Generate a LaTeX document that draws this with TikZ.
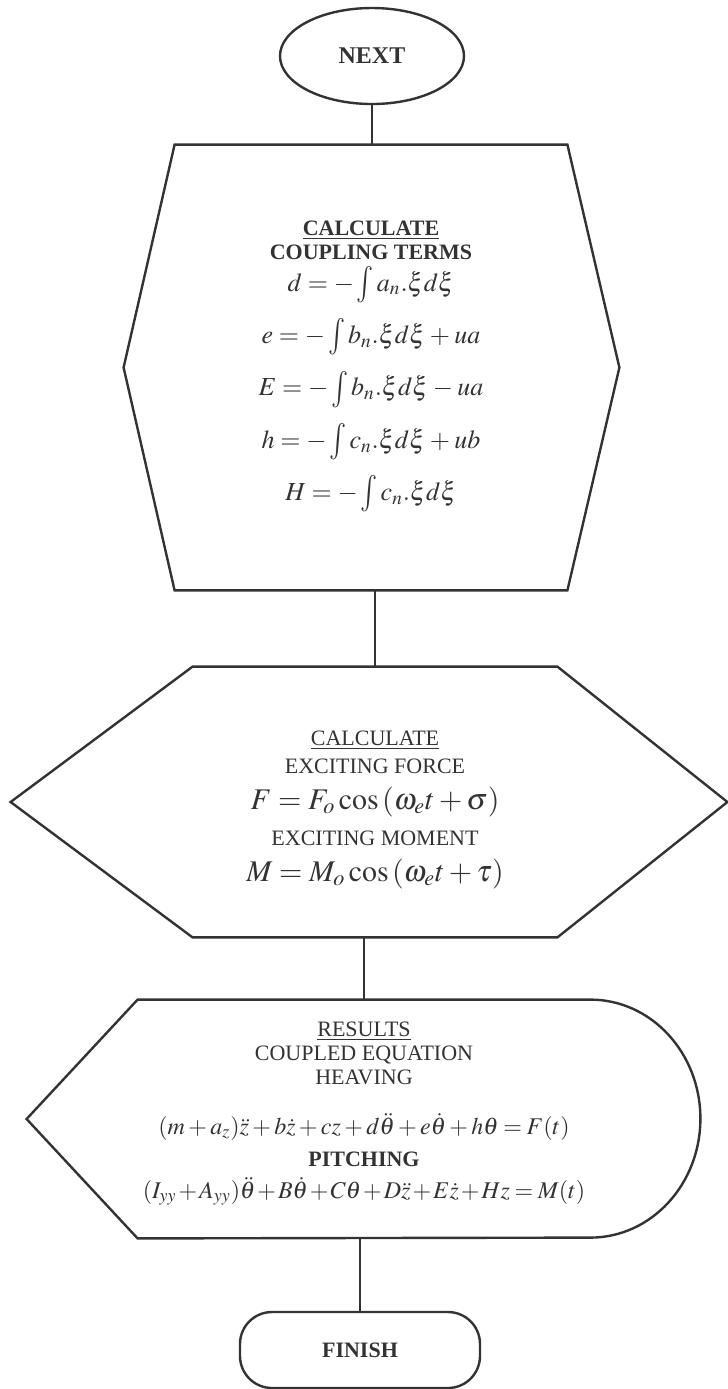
\documentclass[tikz,border=0pt]{standalone}
\usepackage{mathptmx}
\usepackage[no-math]{fontspec}
\setmainfont{Liberation Serif}
\usepackage{graphicx}
\usepackage{tikz}
\usetikzlibrary{shapes.geometric,positioning}
\definecolor{inkgray}{HTML}{333333}
\newcommand{\eqfont}{\fontsize{13}{15}\selectfont\medmuskip=3mu\thickmuskip=4mu}
\newcommand{\eqbigfont}{\fontsize{15}{17}\selectfont}
\newcommand{\reseqfont}{\fontsize{12}{14}\selectfont\medmuskip=2.5mu\thickmuskip=3.5mu}
\newcommand{\tallint}{\mathop{\vcenter{\hbox{\scalebox{1.1}[1.4]{$\int$}}}}\nolimits}

\begin{document}
\begin{tikzpicture}[x=0.5pt, y=-0.5pt, font=\fontsize{11}{13}\selectfont, color=inkgray,
  outline/.style={draw=inkgray, line width=1.2pt, line join=miter},
  link/.style={draw=inkgray, line width=0.9pt},
  core/.style={inner sep=0pt, align=center, text=inkgray}]
  \useasboundingbox (0,0) rectangle (728,1389);
  % start
  \node[ellipse, outline, minimum width=92pt, minimum height=48pt,
    font=\fontsize{12}{14}\selectfont\bfseries] (next) at (372,56) {NEXT};
  % coupling terms
  \node[core, minimum width=196pt, minimum height=222.5pt] (coupling) at (371,367.5)
    {\textbf{\underline{CALCULATE}}\\[-1pt]
     \textbf{COUPLING TERMS}\\[3pt]
     {\eqfont$d = -\tallint a_n.\xi d\xi$}\\[7pt]
     {\eqfont$e = -\tallint b_n.\xi d\xi + ua$}\\[7pt]
     {\eqfont$E = -\tallint b_n.\xi d\xi - ua$}\\[7pt]
     {\eqfont$h = -\tallint c_n.\xi d\xi + ub$}\\[7pt]
     {\eqfont$H = -\tallint c_n.\xi d\xi$}\\[-6pt]\mbox{}};
  \draw[outline] (coupling.north west) -- (coupling.north east) -- ([xshift=26pt]coupling.east)
    -- (coupling.south east) -- (coupling.south west) -- ([xshift=-25.5pt]coupling.west) -- cycle;
  % exciting force and moment
  \node[core, minimum width=182pt, minimum height=135pt] (exciting) at (375,802)
    {\mbox{}\\[2pt]
     \underline{CALCULATE}\\[1pt]
     EXCITING FORCE\\[5pt]
     {\eqbigfont$F = F_o\cos\left(\omega_e t + \sigma\right)$}\\[5pt]
     EXCITING MOMENT\\[5pt]
     {\eqbigfont$M = M_o\cos\left(\omega_e t + \tau\right)$}};
  \draw[outline] (exciting.north west) -- (exciting.north east) -- ([xshift=85pt]exciting.east)
    -- (exciting.south east) -- (exciting.south west) -- ([xshift=-91pt]exciting.west) -- cycle;
  % results
  \node[core, minimum width=226pt, minimum height=119pt] (results) at (364,1119)
    {\underline{RESULTS}\\[-1pt]
     COUPLED EQUATION\\[-1pt]
     HEAVING\\[12pt]
     {\reseqfont$(m + a_z)\ddot z + b\dot z + cz + d\ddot\theta + e\dot\theta + h\theta = F(t)$}\\[3pt]
     \textbf{PITCHING}\\[3pt]
     {\reseqfont\medmuskip=1.5mu$(I_{yy} + A_{yy})\ddot\theta + B\dot\theta + C\theta + D\ddot z + E\dot z + Hz = M(t)$}\\[-4pt]\mbox{}};
  \draw[outline] (results.north west) -- (results.north east)
    arc[start angle=90, end angle=-90, x radius=55pt, y radius=59.5pt]
    -- (results.south west) -- ([xshift=-55.5pt]results.west) -- cycle;
  % end
  \node[core, outline, rounded corners=16pt, minimum width=120pt, minimum height=38pt,
    font=\fontsize{11}{13}\selectfont\bfseries] (finish) at (360,1350) {FINISH};
  \draw[link] (next.south) -- (next.south |- coupling.north);
  \draw[link] (exciting.north |- coupling.south) -- (exciting.north);
  \draw[link] (results.north |- exciting.south) -- (results.north);
  \draw[link] (finish.north |- results.south) -- (finish.north);
\end{tikzpicture}
\end{document}
